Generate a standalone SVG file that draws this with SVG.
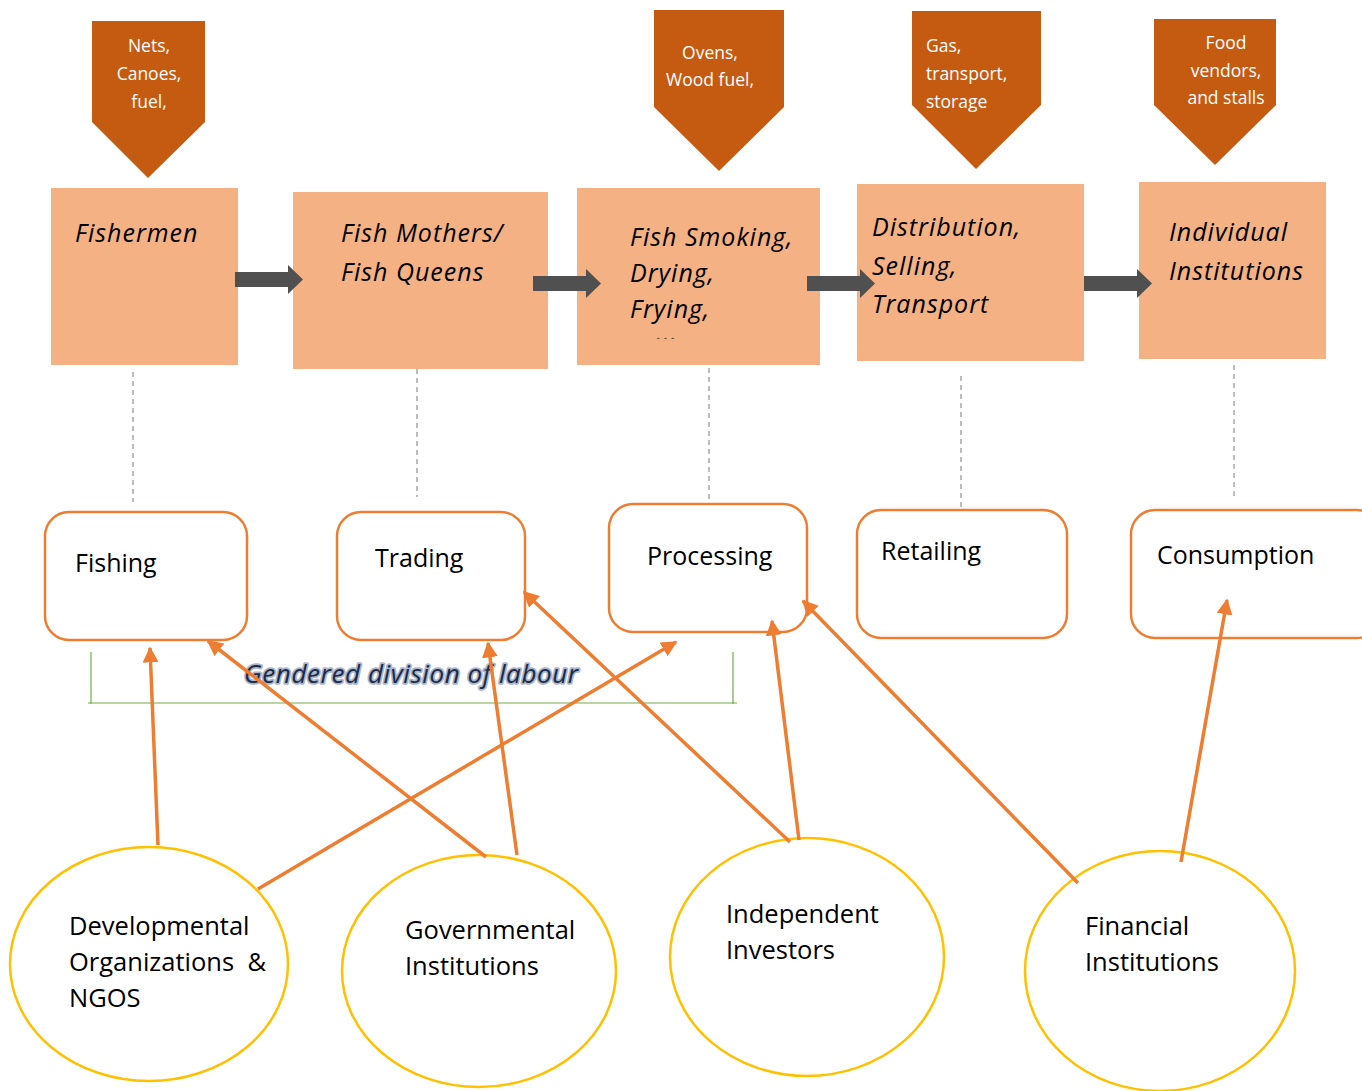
<svg xmlns="http://www.w3.org/2000/svg" width="1362" height="1091" viewBox="0 0 1362 1091">
  <style>
    .res { fill: #C55A11; }
    .res-t { font-family: "Open Sans", "Liberation Sans", sans-serif; font-size: 17.5px; fill: #ffffff; }
    .stage { fill: #F4B183; }
    .stage-t { font-family: "Open Sans", "Liberation Sans", sans-serif; font-size: 25px; font-style: italic; letter-spacing: 1px; fill: #000000; }
    .flow { fill: #505050; }
    .dash { stroke: #A6A6A6; stroke-width: 1.5; stroke-dasharray: 5 4; fill: none; }
    .act { fill: #ffffff; stroke: #ED7D31; stroke-width: 2.5; }
    .act-t { font-family: "Open Sans", "Liberation Sans", sans-serif; font-size: 25px; fill: #000000; }
    .actor { fill: #ffffff; stroke: #FFC000; stroke-width: 2.5; }
    .actor-t { font-family: "Open Sans", "Liberation Sans", sans-serif; font-size: 25.5px; fill: #000000; white-space: pre; }
    .link { stroke: #ED7D31; stroke-width: 3.5; fill: none; marker-end: url(#head); }
    .bracket { stroke: #70AD47; stroke-width: 1.2; fill: none; }
    .gender { font-family: "Open Sans", "Liberation Sans", sans-serif; font-size: 26px; font-style: italic; letter-spacing: 0.6px; fill: #1F2A44; stroke: #A9B6CE; stroke-width: 3.5; paint-order: stroke; stroke-linejoin: round; }
  </style>
  <defs>
    <marker id="head" viewBox="0 0 10 10" refX="9" refY="5" markerWidth="16" markerHeight="16" markerUnits="userSpaceOnUse" orient="auto">
      <path d="M0,0 L10,5 L0,10 Z" fill="#ED7D31"/>
    </marker>
    <clipPath id="clip-smoke"><rect x="577" y="188" width="243" height="150.5"/></clipPath>
  </defs>

  <rect width="1362" height="1091" fill="#ffffff"/>

  <!-- resource inputs (down-pointing pentagons) -->
  <g id="res-fishermen">
    <polygon class="res" points="92,21 205,21 205,122 148,178 92,122"/>
    <text class="res-t" text-anchor="middle"><tspan x="149" y="52">Nets,</tspan><tspan x="149" y="80">Canoes,</tspan><tspan x="149" y="108">fuel,</tspan></text>
  </g>
  <g id="res-processing">
    <polygon class="res" points="654,10 784,10 784,107 719,171 654,107"/>
    <text class="res-t" text-anchor="middle"><tspan x="710" y="59">Ovens,</tspan><tspan x="710" y="86">Wood fuel,</tspan></text>
  </g>
  <g id="res-distribution">
    <polygon class="res" points="912,11 1041,11 1041,105 976,169 912,105"/>
    <text class="res-t"><tspan x="926" y="52">Gas,</tspan><tspan x="926" y="80">transport,</tspan><tspan x="926" y="108">storage</tspan></text>
  </g>
  <g id="res-consumption">
    <polygon class="res" points="1154,19 1276,19 1276,105 1215,165 1154,105"/>
    <text class="res-t" text-anchor="middle"><tspan x="1226" y="49">Food</tspan><tspan x="1226" y="77">vendors,</tspan><tspan x="1226" y="104">and stalls</tspan></text>
  </g>

  <!-- value chain stages -->
  <g id="stage-fishermen">
    <rect class="stage" x="51" y="188" width="187" height="177"/>
    <text class="stage-t" x="75" y="242">Fishermen</text>
  </g>
  <g id="stage-traders">
    <rect class="stage" x="293" y="192" width="255" height="177"/>
    <text class="stage-t"><tspan x="341" y="242">Fish Mothers/</tspan><tspan x="341" y="281">Fish Queens</tspan></text>
  </g>
  <g id="stage-processing">
    <rect class="stage" x="577" y="188" width="243" height="177"/>
    <text class="stage-t"><tspan x="630" y="246">Fish Smoking,</tspan><tspan x="630" y="282">Drying,</tspan><tspan x="630" y="318">Frying,</tspan></text>
    <text class="stage-t" x="656" y="341" clip-path="url(#clip-smoke)">...</text>
  </g>
  <g id="stage-distribution">
    <rect class="stage" x="857" y="184" width="227" height="177"/>
    <text class="stage-t"><tspan x="872" y="236">Distribution,</tspan><tspan x="872" y="275">Selling,</tspan><tspan x="872" y="313">Transport</tspan></text>
  </g>
  <g id="stage-consumers">
    <rect class="stage" x="1139" y="182" width="187" height="177"/>
    <text class="stage-t"><tspan x="1169" y="241">Individual</tspan><tspan x="1169" y="280">Institutions</tspan></text>
  </g>

  <!-- activities -->
  <g id="act-fishing">
    <rect class="act" x="45" y="512" width="202" height="128" rx="24"/>
    <text class="act-t" x="75" y="572">Fishing</text>
  </g>
  <g id="act-trading">
    <rect class="act" x="337" y="512" width="188" height="128" rx="24"/>
    <text class="act-t" x="375" y="567">Trading</text>
  </g>
  <g id="act-processing">
    <rect class="act" x="609" y="504" width="198" height="128" rx="24"/>
    <text class="act-t" x="647" y="565">Processing</text>
  </g>
  <g id="act-retailing">
    <rect class="act" x="857" y="510" width="210" height="128" rx="24"/>
    <text class="act-t" x="881" y="560">Retailing</text>
  </g>
  <g id="act-consumption">
    <rect class="act" x="1131" y="510" width="250" height="128" rx="24"/>
    <text class="act-t" x="1157" y="564">Consumption</text>
  </g>

  <!-- support actors -->
  <g id="actor-ngos">
    <ellipse class="actor" cx="149" cy="964" rx="139" ry="117"/>
    <text class="actor-t"><tspan x="69" y="935">Developmental</tspan><tspan x="69" y="971">Organizations  &amp;</tspan><tspan x="69" y="1007">NGOS</tspan></text>
  </g>
  <g id="actor-government">
    <ellipse class="actor" cx="479" cy="971" rx="137" ry="116"/>
    <text class="actor-t"><tspan x="405" y="939">Governmental</tspan><tspan x="405" y="975">Institutions</tspan></text>
  </g>
  <g id="actor-investors">
    <ellipse class="actor" cx="807" cy="957" rx="137" ry="119"/>
    <text class="actor-t"><tspan x="726" y="923">Independent</tspan><tspan x="726" y="959">Investors</tspan></text>
  </g>
  <g id="actor-finance">
    <ellipse class="actor" cx="1160" cy="971" rx="135" ry="120"/>
    <text class="actor-t"><tspan x="1085" y="935">Financial</tspan><tspan x="1085" y="971">Institutions</tspan></text>
  </g>

  <!-- gendered division bracket -->
  <g id="gender-bracket">
    <path class="bracket" d="M91,652 V704 M88,703 H737 M733,652 V704"/>
    <text class="gender" x="244" y="683">Gendered division of labour</text>
  </g>

  <!-- connectors -->
  <g id="connectors">
    <!-- flow arrows between stages -->
    <polygon class="flow" points="235,272 288,272 288,265 303,279.5 288,294 288,287 235,287"/>
    <polygon class="flow" points="533,276 586,276 586,269 601,283.5 586,298 586,291 533,291"/>
    <polygon class="flow" points="807,276 860,276 860,269 875,283.5 860,298 860,291 807,291"/>
    <polygon class="flow" points="1084,276 1137,276 1137,269 1152,283.5 1137,298 1137,291 1084,291"/>

    <!-- stage to activity -->
    <line class="dash" x1="133" y1="372" x2="133" y2="502"/>
    <line class="dash" x1="417" y1="369" x2="417" y2="497"/>
    <line class="dash" x1="709" y1="368" x2="709" y2="500"/>
    <line class="dash" x1="961" y1="376" x2="961" y2="507"/>
    <line class="dash" x1="1234" y1="365" x2="1234" y2="500"/>

    <!-- actors supporting activities -->
    <line class="link" x1="158" y1="845" x2="150" y2="648"/>
    <line class="link" x1="486" y1="857" x2="208" y2="641"/>
    <line class="link" x1="258" y1="889" x2="676" y2="642"/>
    <line class="link" x1="517" y1="855" x2="488" y2="643"/>
    <line class="link" x1="790" y1="842" x2="524" y2="592"/>
    <line class="link" x1="799" y1="840" x2="772" y2="621"/>
    <line class="link" x1="1078" y1="883" x2="803" y2="601"/>
    <line class="link" x1="1181" y1="862" x2="1227" y2="600"/>
  </g>
</svg>
